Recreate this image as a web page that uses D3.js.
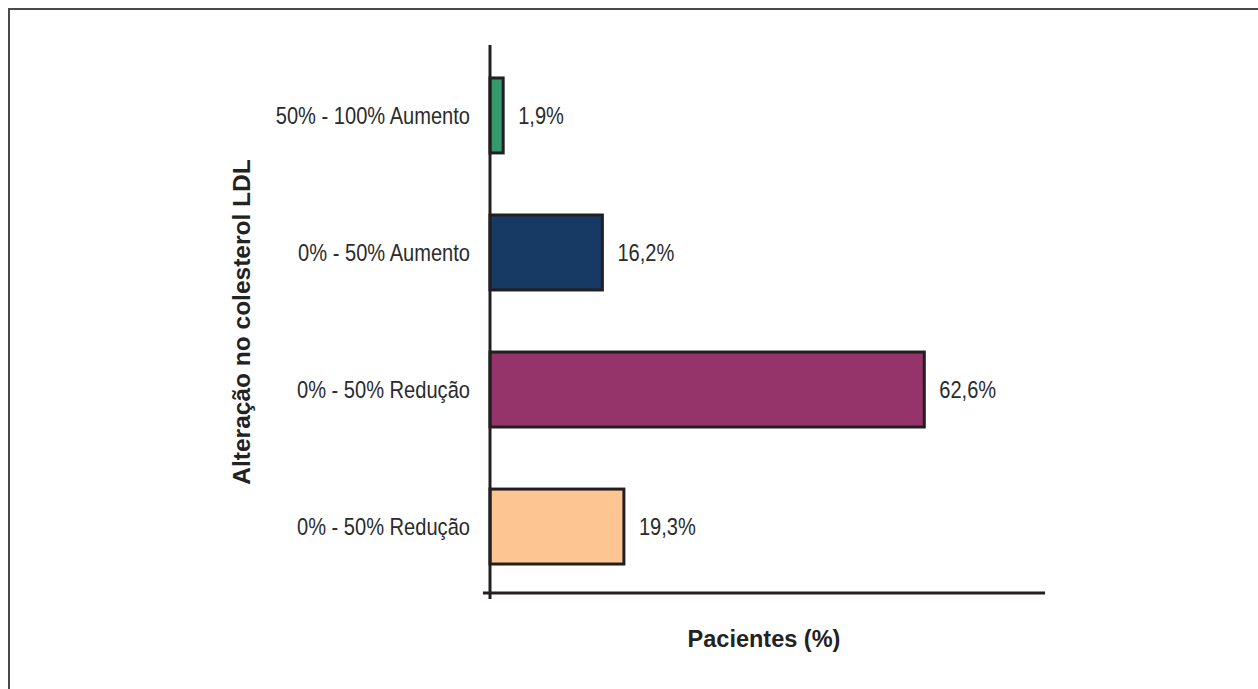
<!DOCTYPE html>
<html>
<head>
<meta charset="utf-8">
<script src="https://cdn.jsdelivr.net/npm/d3@7/dist/d3.min.js"></script>
<style>
  html, body { margin: 0; padding: 0; background: #fff; }
  svg { display: block; }
  .cat, .val { font-family: "Liberation Sans", Arial, Helvetica, sans-serif; font-size: 24.5px; fill: #2b2b2b; }
  .title { font-family: "Liberation Sans", Arial, Helvetica, sans-serif; font-size: 23.5px; font-weight: bold; fill: #222; }
  .ytitle { font-size: 24.5px; }
</style>
</head>
<body>
<svg id="chart" width="1258" height="689"></svg>
<script>
// Change in LDL cholesterol, share of patients (%)
const categories = ["50% - 100% Aumento", "0% - 50% Aumento", "0% - 50% Redução (a)", "0% - 50% Redução (b)"];
const categoryLabels = ["50% - 100% Aumento", "0% - 50% Aumento", "0% - 50% Redução", "0% - 50% Redução"];
const values = [1.9, 16.2, 62.6, 19.3];
const valueLabels = ["1,9%", "16,2%", "62,6%", "19,3%"];
const barColors = ["#36996b", "#163a64", "#94346a", "#fdc591"];
const xTitle = "Pacientes (%)";
const yTitle = "Alteração no colesterol LDL";

const svg = d3.select("#chart");
const W = 1258, H = 689;
const narrow = 0.82; // condensed look for labels

// panel frame (top and left edges)
svg.append("path")
  .attr("d", `M9,${H} V9 H${W}`)
  .attr("fill", "none")
  .attr("stroke", "#4a4a4a")
  .attr("stroke-width", 2);

const x0 = 490, x1 = 1045, yTop = 45, yBase = 593;

const x = d3.scaleLinear().domain([0, 80]).range([x0, x1]);
const y = d3.scaleBand()
  .domain(categories)
  .range([yTop + 2, yBase + 2])
  .paddingInner(0.453)
  .paddingOuter(0.226);

// bars
svg.append("g")
  .selectAll("rect")
  .data(values)
  .join("rect")
  .attr("x", x(0))
  .attr("y", (d, i) => y(categories[i]))
  .attr("width", d => x(d) - x(0))
  .attr("height", y.bandwidth())
  .attr("fill", (d, i) => barColors[i])
  .attr("stroke", "#231f20")
  .attr("stroke-width", 3);

// axes
svg.append("line")
  .attr("x1", x0).attr("x2", x0)
  .attr("y1", yTop).attr("y2", yBase + 6)
  .attr("stroke", "#231f20").attr("stroke-width", 3);
svg.append("line")
  .attr("x1", x0 - 7).attr("x2", x1)
  .attr("y1", yBase).attr("y2", yBase)
  .attr("stroke", "#231f20").attr("stroke-width", 3);

// category labels
svg.append("g")
  .selectAll("text")
  .data(categoryLabels)
  .join("text")
  .attr("class", "cat")
  .attr("transform", (d, i) => `translate(${x0 - 20},${y(categories[i]) + y.bandwidth() / 2}) scale(${narrow},1)`)
  .attr("dy", "0.35em")
  .attr("text-anchor", "end")
  .text(d => d);

// value labels
svg.append("g")
  .selectAll("text")
  .data(values)
  .join("text")
  .attr("class", "val")
  .attr("transform", (d, i) => `translate(${x(d) + 15},${y(categories[i]) + y.bandwidth() / 2}) scale(${narrow},1)`)
  .attr("dy", "0.35em")
  .text((d, i) => valueLabels[i]);

// axis titles
svg.append("text")
  .attr("class", "title")
  .attr("x", 764)
  .attr("y", 647)
  .attr("text-anchor", "middle")
  .text(xTitle);

svg.append("text")
  .attr("class", "title ytitle")
  .attr("transform", "translate(250,322) rotate(-90)")
  .attr("text-anchor", "middle")
  .text(yTitle);
</script>
</body>
</html>
